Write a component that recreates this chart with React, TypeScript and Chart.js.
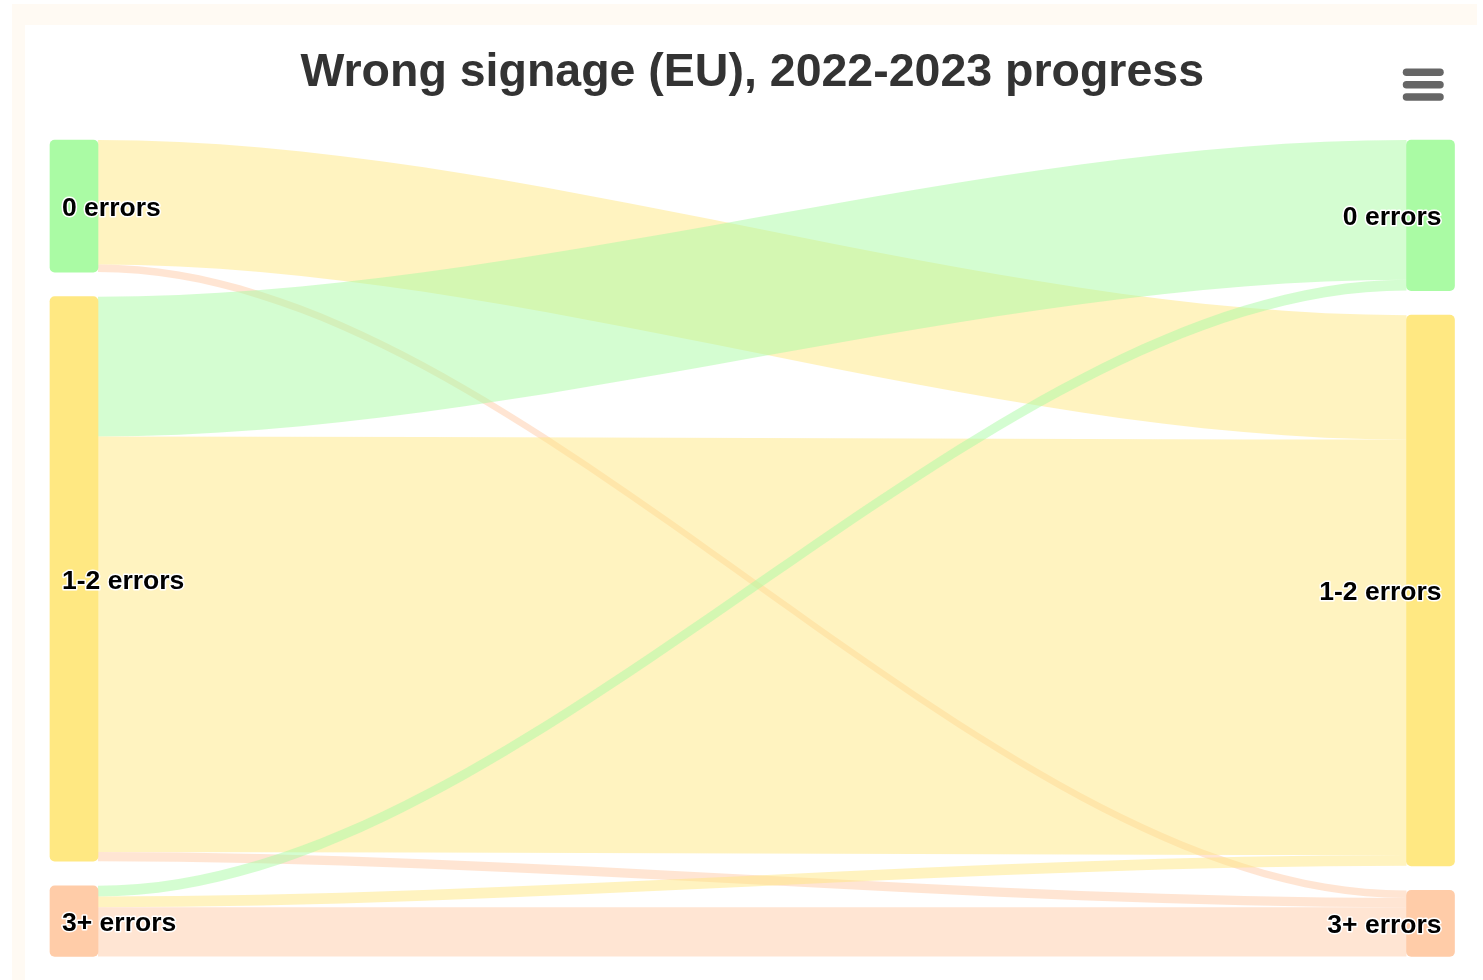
import React, { useEffect, useRef } from "react";
import { Chart, registerables } from "chart.js";

Chart.register(...registerables);

// ---- data ----
const TITLE = "Wrong signage (EU), 2022-2023 progress";
const COLUMN_YEARS = [2022, 2023];
const NODE_LABELS = ["0 errors", "1-2 errors", "3+ errors"];
const NODE_COLORS = ["#AAFBA4", "#FFE882", "#FFCCA8"];
const LINK_FROM = [0, 0, 1, 1, 1, 2, 2, 2];
const LINK_TO = [1, 2, 0, 1, 2, 0, 1, 2];
const LINK_VALUES = [16.2, 1.0, 18.2, 54.1, 1.2, 1.4, 1.4, 6.4];

// ---- layout constants ----
const NODE_GAP = 3.2; // gap between nodes, in value units
const NODE_WIDTH = 48;
const CURVE_FACTOR = 0.33;
const LABEL_DY = 2.5;
const FONT = "'Liberation Sans', Arial, Helvetica, sans-serif";

function computeNodes() {
  const outSum = NODE_LABELS.map((_, n) =>
    LINK_VALUES.reduce((s, v, i) => (LINK_FROM[i] === n ? s + v : s), 0)
  );
  const inSum = NODE_LABELS.map((_, n) =>
    LINK_VALUES.reduce((s, v, i) => (LINK_TO[i] === n ? s + v : s), 0)
  );
  const stack = (sums: number[]) => {
    let pos = 0;
    return sums.map((v) => {
      const r = [pos, pos + v];
      pos += v + NODE_GAP;
      return r;
    });
  };
  const left = stack(outSum);
  const right = stack(inSum);
  const total = Math.max(
    outSum.reduce((a, b) => a + b, 0),
    inSum.reduce((a, b) => a + b, 0)
  );
  return { left, right, yMax: total + NODE_GAP * (NODE_LABELS.length - 1) };
}

export default function App() {
  const ref = useRef<HTMLCanvasElement | null>(null);

  useEffect(() => {
    if (!ref.current) return;
    const { left, right, yMax } = computeNodes();

    const nodeData = [
      ...left.map((r) => ({ x: 0, y: r })),
      ...right.map((r) => ({ x: 1, y: r })),
    ];
    const nodeColors = [...NODE_COLORS, ...NODE_COLORS];

    const background = {
      id: "bgFrame",
      beforeDraw(chart: any) {
        const { ctx, width, height } = chart;
        ctx.save();
        ctx.fillStyle = "#FFFAF3";
        ctx.fillRect(12, 4, width - 18, height - 4);
        ctx.fillStyle = "#FFFFFF";
        ctx.fillRect(25, 25, width - 31, height - 25);
        ctx.restore();
      },
    };

    const links = {
      id: "sankeyLinks",
      beforeDatasetsDraw(chart: any) {
        const { ctx } = chart;
        const xs = chart.scales.x;
        const ys = chart.scales.y;
        const x0 = xs.getPixelForValue(0) + NODE_WIDTH / 2;
        const x1 = xs.getPixelForValue(1) - NODE_WIDTH / 2;
        const curvy = (x1 - x0) * CURVE_FACTOR;
        const outOff = left.map((r) => r[0]);
        const inOff = right.map((r) => r[0]);
        ctx.save();
        ctx.globalAlpha = 0.5;
        LINK_VALUES.forEach((v, i) => {
          const f = LINK_FROM[i];
          const t = LINK_TO[i];
          const fy0 = ys.getPixelForValue(outOff[f]);
          const fy1 = ys.getPixelForValue(outOff[f] + v);
          const ty0 = ys.getPixelForValue(inOff[t]);
          const ty1 = ys.getPixelForValue(inOff[t] + v);
          outOff[f] += v;
          inOff[t] += v;
          ctx.beginPath();
          ctx.moveTo(x0, fy0);
          ctx.bezierCurveTo(x0 + curvy, fy0, x1 - curvy, ty0, x1, ty0);
          ctx.lineTo(x1, ty1);
          ctx.bezierCurveTo(x1 - curvy, ty1, x0 + curvy, fy1, x0, fy1);
          ctx.closePath();
          ctx.fillStyle = NODE_COLORS[t];
          ctx.fill();
        });
        ctx.restore();
      },
    };

    const labels = {
      id: "nodeLabels",
      afterDatasetsDraw(chart: any) {
        const { ctx } = chart;
        const xs = chart.scales.x;
        const ys = chart.scales.y;
        ctx.save();
        ctx.font = `bold 26.5px ${FONT}`;
        ctx.textBaseline = "middle";
        ctx.lineJoin = "round";
        const drawLabel = (text: string, x: number, y: number, align: CanvasTextAlign) => {
          ctx.textAlign = align;
          ctx.strokeStyle = "#FFFFFF";
          ctx.lineWidth = 3;
          ctx.strokeText(text, x, y);
          ctx.fillStyle = "#000000";
          ctx.fillText(text, x, y);
        };
        left.forEach((r, n) => {
          const y = ys.getPixelForValue((r[0] + r[1]) / 2) + LABEL_DY;
          drawLabel(NODE_LABELS[n], xs.getPixelForValue(0) - NODE_WIDTH / 2 + 12, y, "left");
        });
        right.forEach((r, n) => {
          const y = ys.getPixelForValue((r[0] + r[1]) / 2) + LABEL_DY;
          drawLabel(NODE_LABELS[n], xs.getPixelForValue(1) + NODE_WIDTH / 2 - 13, y, "right");
        });
        ctx.restore();
      },
    };

    const menu = {
      id: "menuIcon",
      afterDraw(chart: any) {
        const { ctx } = chart;
        ctx.save();
        ctx.strokeStyle = "#666666";
        ctx.lineWidth = 7.5;
        ctx.lineCap = "round";
        [72.2, 84.7, 97].forEach((y) => {
          ctx.beginPath();
          ctx.moveTo(1406.5, y);
          ctx.lineTo(1440, y);
          ctx.stroke();
        });
        ctx.restore();
      },
    };

    const chart = new Chart(ref.current, {
      type: "bar",
      data: {
        datasets: [
          {
            label: COLUMN_YEARS.join("-"),
            data: nodeData as any,
            backgroundColor: nodeColors,
            borderWidth: 0,
            borderRadius: 5,
            borderSkipped: false,
            barThickness: NODE_WIDTH,
            clip: false as any,
          },
        ],
      },
      options: {
        animation: false,
        responsive: true,
        maintainAspectRatio: false,
        events: [],
        layout: { padding: { left: 74, right: 52.5, top: 0, bottom: 23.5 } },
        scales: {
          x: { type: "linear", min: 0, max: 1, offset: false, display: false },
          y: { type: "linear", min: 0, max: yMax, reverse: true, display: false },
        },
        plugins: {
          legend: { display: false },
          tooltip: { enabled: false },
          title: {
            display: true,
            text: TITLE,
            color: "#333333",
            font: { family: FONT, size: 46.5, weight: "bold", lineHeight: 1.2 },
            padding: { top: 45.5, bottom: 38.7 },
          },
        },
      },
      plugins: [background, links, labels, menu],
    });
    return () => chart.destroy();
  }, []);

  return (
    <div style={{ position: "fixed", left: 0, top: 0, width: 1483, height: 980 }}>
      <canvas ref={ref} />
    </div>
  );
}
